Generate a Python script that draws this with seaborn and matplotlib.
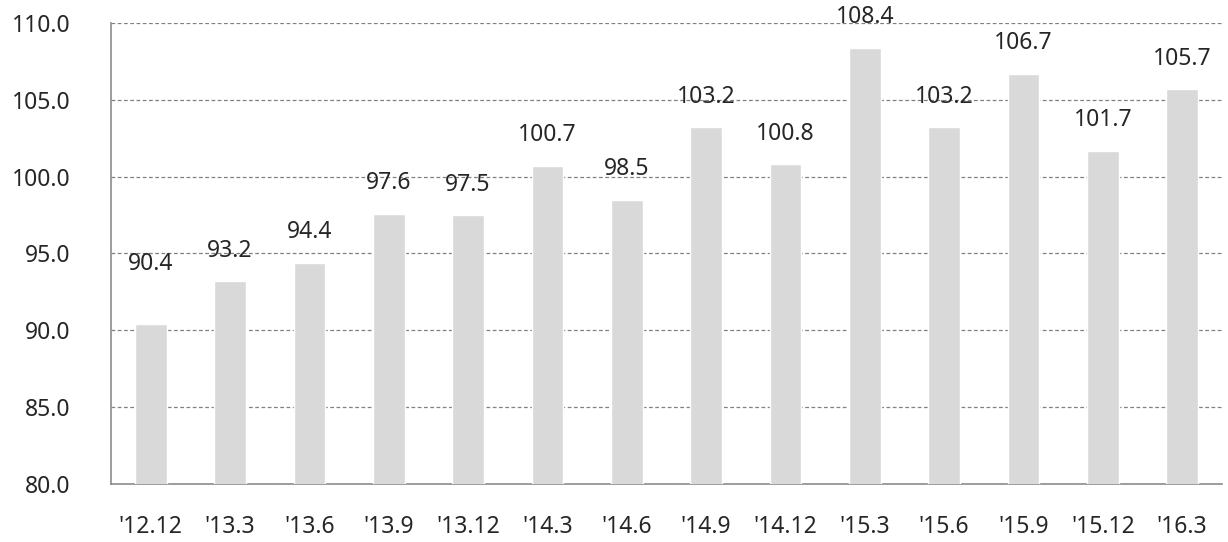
import matplotlib.pyplot as plt
import seaborn as sns
import numpy as np
import pandas as pd

# data
periods = ["'12.12", "'13.3", "'13.6", "'13.9", "'13.12", "'14.3", "'14.6",
           "'14.9", "'14.12", "'15.3", "'15.6", "'15.9", "'15.12", "'16.3"]
values = [90.4, 93.2, 94.4, 97.6, 97.5, 100.7, 98.5,
          103.2, 100.8, 108.4, 103.2, 106.7, 101.7, 105.7]

# label offsets above the bar top (points); first label sits higher
label_offsets = [43] + [22] * 13

df = pd.DataFrame({"period": periods, "value": values})

sns.set_style("white")
plt.rcParams['font.family'] = ['Noto Sans', 'DejaVu Sans']
FS = 16.5
TXT = "#262626"

fig = plt.figure(figsize=(12.28, 5.42), dpi=100)
ax = fig.add_axes([111 / 1228, 1 - 484 / 542, (1222 - 111) / 1228, (484 - 23) / 542])

sns.barplot(data=df, x="period", y="value", color="#d9d9d9", width=0.4,
            saturation=1, ax=ax, zorder=3)

ax.set_ylim(80, 110)
ax.set_xlim(-0.5, len(periods) - 0.5)
ax.set_yticks(np.arange(80, 110.1, 5))
ax.set_yticklabels([f"{v:.1f}" for v in np.arange(80, 110.1, 5)])
ax.yaxis.grid(True, linestyle=(0, (3, 2)), color="#808080", linewidth=0.9, zorder=0)
ax.set_axisbelow(True)

# category ticks at boundaries, labels centered on bars
ax.set_xticks(np.arange(len(periods)))
ax.set_xticklabels(periods)
ax.set_xticks(np.arange(-0.5, len(periods)), minor=True)
ax.tick_params(axis="x", which="major", length=0, pad=22, labelsize=FS, colors=TXT)
ax.tick_params(axis="x", which="minor", length=7, width=1, color="#8c8c8c", direction="out")
ax.tick_params(axis="y", length=8, width=1, color="#8c8c8c", direction="out",
               labelsize=FS, labelcolor=TXT, pad=21)

for side in ["top", "right"]:
    ax.spines[side].set_visible(False)
for side in ["left", "bottom"]:
    ax.spines[side].set_color("#8c8c8c")
    ax.spines[side].set_linewidth(1.2)

for i, (v, off) in enumerate(zip(values, label_offsets)):
    ax.annotate(f"{v:.1f}", xy=(i, v), xytext=(0, off), textcoords="offset points",
                ha="center", va="center", fontsize=FS, color=TXT, zorder=5)

ax.set_xlabel("")
ax.set_ylabel("")

fig.savefig("out.png", dpi=100)
